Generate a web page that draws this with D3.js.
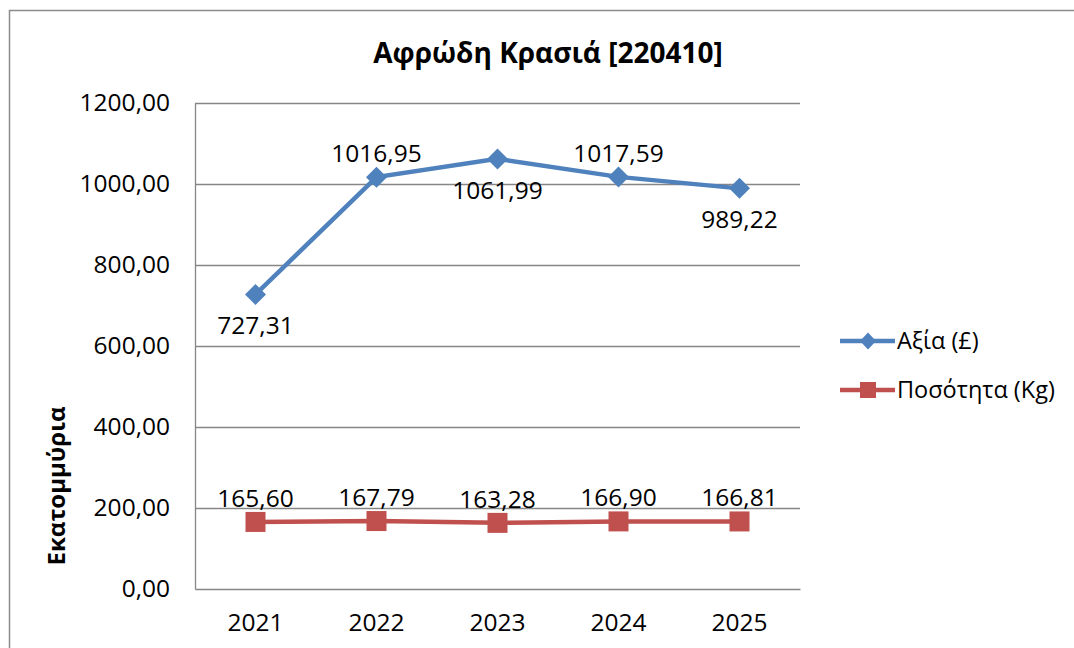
<!DOCTYPE html>
<html>
<head>
<meta charset="utf-8">
<script src="https://cdn.jsdelivr.net/npm/d3@7"></script>
<style>
  body { margin: 0; background: #fff; }
  text { font-family: "Open Sans", "Noto Sans", sans-serif; fill: #000; }
</style>
</head>
<body>
<div id="chart"></div>
<script>
// chart data
var years = ["2021", "2022", "2023", "2024", "2025"];
var valueGBP = [727.31, 1016.95, 1061.99, 1017.59, 989.22];
var quantityKg = [165.60, 167.79, 163.28, 166.90, 166.81];
var yTicks = [0, 200, 400, 600, 800, 1000, 1200];
// label above (true) or below (false) the point, as in the original
var valueLabelAbove = [false, true, false, true, false];
var seriesNames = ["Αξία (£)", "Ποσότητα (Kg)"];

var W = 1074, H = 648;
var margin = { top: 103, right: 274, bottom: 59, left: 195 };
var width = W - margin.left - margin.right;
var height = H - margin.top - margin.bottom;

var blue = "#4F81BD", red = "#C0504D", grid = "#868686";
var fs = "24.5px";

var gr = d3.formatLocale({ decimal: ",", thousands: "", grouping: [3], currency: ["", ""] });
var fmt = gr.format(".2f");

var svg = d3.select("#chart").append("svg")
  .attr("width", W)
  .attr("height", H);

// outer chart border
svg.append("rect")
  .attr("x", 9.5).attr("y", 10.5)
  .attr("width", W).attr("height", H)
  .attr("fill", "none").attr("stroke", "#8c8c8c").attr("stroke-width", 1.5);

svg.append("text")
  .attr("x", 548).attr("y", 63)
  .attr("text-anchor", "middle")
  .style("font-weight", "bold").style("font-size", "28px")
  .text("Αφρώδη Κρασιά [220410]");

var g = svg.append("g")
  .attr("transform", "translate(" + margin.left + "," + margin.top + ")");

var x = d3.scaleBand().domain(years).range([0, width]).padding(0);
var y = d3.scaleLinear().domain([0, 1200]).range([height, 0]);
var cx = function (d) { return x(d) + x.bandwidth() / 2; };

// gridlines
g.append("g")
  .selectAll("line")
  .data(yTicks.slice(1))
  .enter().append("line")
  .attr("x1", 0).attr("x2", width)
  .attr("y1", function (d) { return y(d) + 0.5; })
  .attr("y2", function (d) { return y(d) + 0.5; })
  .attr("stroke", grid).attr("stroke-width", 1.3);

// y axis
var yAxis = g.append("g")
  .call(d3.axisLeft(y).tickValues(yTicks).tickFormat(fmt).tickSize(0).tickPadding(25));
yAxis.select(".domain").attr("stroke", grid).attr("stroke-width", 1.3);
yAxis.selectAll("text").style("font-size", fs).attr("fill", "#000");

// x axis
var xAxis = g.append("g")
  .attr("transform", "translate(0," + height + ")")
  .call(d3.axisBottom(x).tickSize(0).tickPadding(25));
xAxis.select(".domain").attr("stroke", grid).attr("stroke-width", 1.3);
xAxis.selectAll("text").style("font-size", fs).attr("fill", "#000");

// y axis title
svg.append("text")
  .attr("transform", "translate(65,486) rotate(-90)")
  .attr("text-anchor", "middle")
  .style("font-weight", "bold").style("font-size", "24px")
  .text("Εκατομμύρια");

var line = d3.line()
  .x(function (d, i) { return cx(years[i]); })
  .y(function (d) { return y(d); });

// quantity series
g.append("path").datum(quantityKg)
  .attr("d", line)
  .attr("fill", "none").attr("stroke", red).attr("stroke-width", 4.5);
g.selectAll(".sq").data(quantityKg).enter().append("rect")
  .attr("x", function (d, i) { return cx(years[i]) - 10; })
  .attr("y", function (d) { return y(d) - 10; })
  .attr("width", 20).attr("height", 20)
  .attr("fill", red);

// value series
g.append("path").datum(valueGBP)
  .attr("d", line)
  .attr("fill", "none").attr("stroke", blue).attr("stroke-width", 4.5);
g.selectAll(".dm").data(valueGBP).enter().append("path")
  .attr("d", "M0,-10.5L10.5,0L0,10.5L-10.5,0Z")
  .attr("transform", function (d, i) { return "translate(" + cx(years[i]) + "," + y(d) + ")"; })
  .attr("fill", blue);

// data labels
g.selectAll(".lv").data(valueGBP).enter().append("text")
  .attr("x", function (d, i) { return cx(years[i]); })
  .attr("y", function (d, i) { return y(d) + (valueLabelAbove[i] ? -15 : 40); })
  .attr("text-anchor", "middle")
  .style("font-size", fs)
  .text(fmt);

g.selectAll(".lq").data(quantityKg).enter().append("text")
  .attr("x", function (d, i) { return cx(years[i]); })
  .attr("y", function (d) { return y(d) - 15; })
  .attr("text-anchor", "middle")
  .style("font-size", fs)
  .text(fmt);

// legend
var legend = svg.append("g").attr("transform", "translate(840,0)");
[[blue, 341, "d"], [red, 390, "s"]].forEach(function (s, i) {
  var lg = legend.append("g").attr("transform", "translate(0," + s[1] + ")");
  lg.append("line").attr("x1", 0).attr("x2", 55).attr("y1", 0).attr("y2", 0)
    .attr("stroke", s[0]).attr("stroke-width", 4.5);
  if (s[2] === "d") {
    lg.append("path").attr("d", "M28,-8.5L36,0L28,8.5L20,0Z").attr("fill", s[0]);
  } else {
    lg.append("rect").attr("x", 20).attr("y", -8).attr("width", 16).attr("height", 16).attr("fill", s[0]);
  }
  lg.append("text").attr("x", 57).attr("y", 8)
    .style("font-size", "23.5px")
    .text(seriesNames[i]);
});
</script>
</body>
</html>
